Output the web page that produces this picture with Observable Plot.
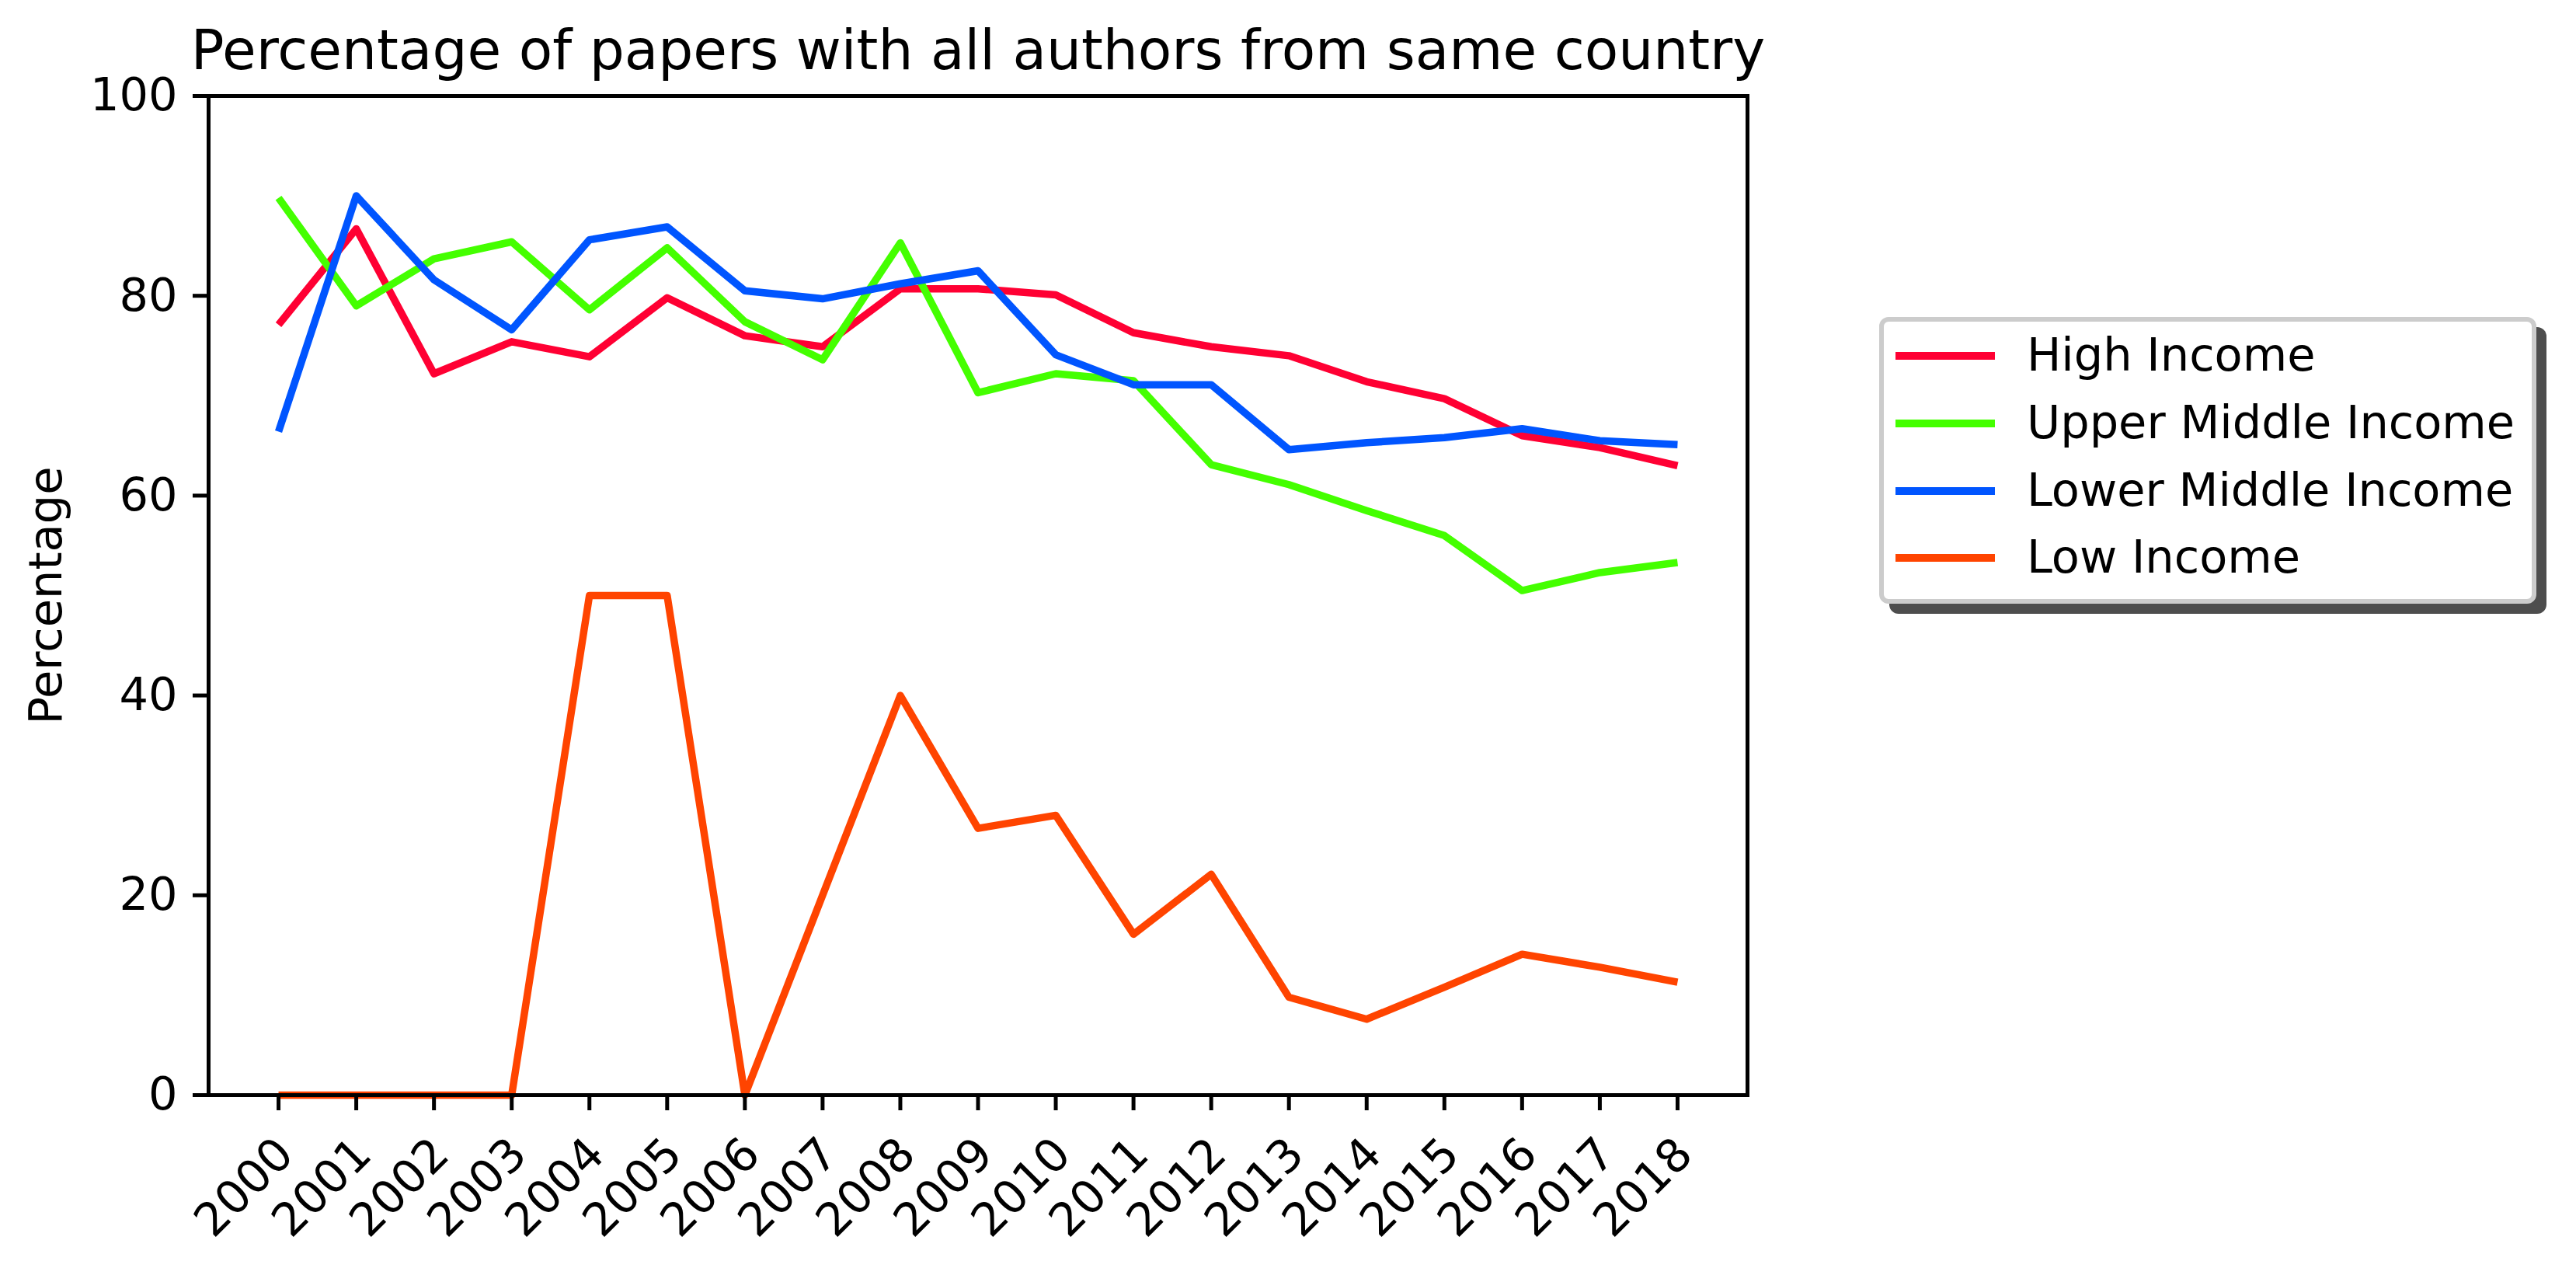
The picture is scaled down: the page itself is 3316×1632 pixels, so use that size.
<!DOCTYPE html>
<html>
<head>
<meta charset="utf-8">
<script src="https://cdn.jsdelivr.net/npm/d3@7"></script>
<script src="https://cdn.jsdelivr.net/npm/@observablehq/plot@0.6"></script>
<style>
  html, body { margin: 0; padding: 0; background: white; }
  #wrap { position: relative; width: 3316px; height: 1632px; font-family: "DejaVu Sans", sans-serif; }
  #legend {
    position: absolute; left: 2419px; top: 408px; width: 834px; height: 357px;
    border: 6px solid #cccccc; border-radius: 12px; background: white;
    box-shadow: 13px 13px 0 #4d4d4d;
  }
  .row { position: absolute; left: 0; height: 0; }
  .sw { position: absolute; left: 15px; width: 128px; height: 10px; top: -5px; }
  .lab { position: absolute; left: 184px; top: -36px; font-size: 59px; line-height: 70px; white-space: nowrap; color: black; }
</style>
</head>
<body>
<div id="wrap"></div>
<script>
const title = "Percentage of papers with all authors from same country";
const yLabel = "Percentage";
const years = [2000,2001,2002,2003,2004,2005,2006,2007,2008,2009,2010,2011,2012,2013,2014,2015,2016,2017,2018];
const yTicks = [0,20,40,60,80,100];
const seriesNames = ["High Income","Upper Middle Income","Lower Middle Income","Low Income"];
const seriesColors = ["#ff0033","#44ff00","#0055ff","#ff4400"];
const highIncome = [77.1,86.7,72.2,75.4,73.9,79.8,76.0,74.9,80.7,80.7,80.1,76.3,74.9,74.0,71.4,69.7,66.0,64.8,63.0];
const upperMiddleIncome = [89.8,79.0,83.7,85.4,78.6,84.8,77.4,73.6,85.3,70.3,72.2,71.5,63.1,61.1,58.5,56.0,50.5,52.3,53.3];
const lowerMiddleIncome = [66.4,90.0,81.6,76.6,85.6,86.9,80.5,79.7,81.2,82.5,74.1,71.1,71.1,64.6,65.3,65.8,66.7,65.5,65.1];
const lowIncome = [0,0,0,0,50,50,0,20,40,26.7,28.0,16.1,22.1,9.8,7.6,10.8,14.1,12.8,11.3];

const seriesValues = [highIncome, upperMiddleIncome, lowerMiddleIncome, lowIncome];
const rows = [];
seriesNames.forEach((name, i) => {
  years.forEach((yr, j) => rows.push({series: name, year: yr, value: seriesValues[i][j]}));
});

const lineMarks = seriesNames.map((name, i) =>
  Plot.line(rows.filter(r => r.series === name), {
    x: "year", y: "value", stroke: seriesColors[i], strokeWidth: 9.5,
    strokeLinejoin: "round", strokeLinecap: "butt"
  })
);

const chart = Plot.plot({
  width: 3316,
  height: 1632,
  marginLeft: 268,
  marginRight: 1067,
  marginTop: 123,
  marginBottom: 223,
  style: {fontFamily: "DejaVu Sans", fontSize: "59px", color: "black", background: "white"},
  x: {domain: [years[0] - 0.9, years[years.length - 1] + 0.9]},
  y: {domain: [0, 100]},
  marks: [
    ...lineMarks,
    Plot.frame({stroke: "black", strokeWidth: 5}),
    Plot.axisY({ticks: yTicks, tickSize: 20, tickPadding: 20, strokeWidth: 5, tickFormat: d => String(d), label: null, fontSize: 59}),
    Plot.axisX({ticks: years, tickSize: 20, strokeWidth: 5, text: null, label: null}),
    Plot.text(years, {x: d => d, frameAnchor: "bottom", text: d => String(d), rotate: -45,
      textAnchor: "end", lineAnchor: "middle", dx: 9, dy: 66, fontSize: 59}),
    Plot.text([title], {frameAnchor: "top", text: d => d, dy: -35, lineAnchor: "bottom", fontSize: 71}),
    Plot.text([yLabel], {frameAnchor: "left", text: d => d, rotate: -90, dx: -190, lineAnchor: "bottom", textAnchor: "middle", fontSize: 59})
  ]
});

const wrap = document.getElementById("wrap");
wrap.appendChild(chart);

const legend = document.createElement("div");
legend.id = "legend";
const rowTops = [44, 131, 218, 304];
seriesNames.forEach((name, i) => {
  const r = document.createElement("div");
  r.className = "row";
  r.style.top = rowTops[i] + "px";
  const sw = document.createElement("div");
  sw.className = "sw";
  sw.style.background = seriesColors[i];
  const lab = document.createElement("div");
  lab.className = "lab";
  lab.textContent = name;
  r.appendChild(sw); r.appendChild(lab);
  legend.appendChild(r);
});
wrap.appendChild(legend);
</script>
</body>
</html>
